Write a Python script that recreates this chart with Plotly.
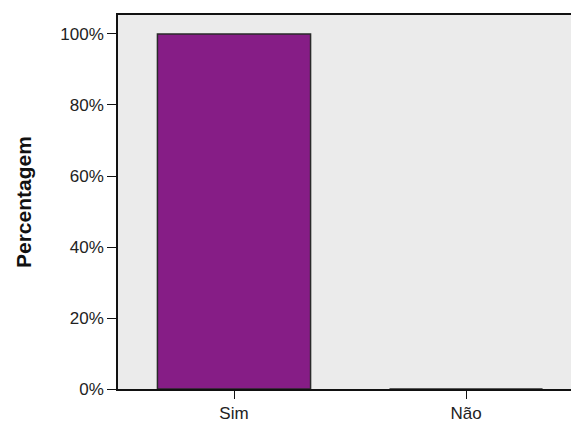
import plotly.graph_objects as go

categories = ["Sim", "Não"]
values = [100, 0]
tick_vals = [0, 20, 40, 60, 80, 100]
tick_text = ["0%", "20%", "40%", "60%", "80%", "100%"]
y_title = "Percentagem"

fig = go.Figure()
fig.add_trace(go.Bar(
    x=categories, y=values, width=0.66,
    marker=dict(color="#861D86", line=dict(color="#2a2a2a", width=1.5)),
))
fig.update_layout(
    width=571, height=419,
    margin=dict(l=110, r=0, t=7, b=38, autoexpand=False),
    paper_bgcolor="white", plot_bgcolor="#EBEBEB",
    font=dict(family="Liberation Sans, Arial", size=17, color="#222"),
    showlegend=False,
)
fig.update_xaxes(
    range=[-0.5, 1.487], showline=True, linecolor="#111", linewidth=1.5, mirror=True,
    ticks="outside", ticklen=8, tickcolor="#111", showgrid=False, automargin=False,
)
fig.update_yaxes(
    range=[0, 105.35], tickmode="array", tickvals=tick_vals, ticktext=tick_text,
    showline=True, linecolor="#111", linewidth=1.5, mirror=True,
    ticks="outside", ticklen=9, tickcolor="#111", showgrid=False, zeroline=False,
    automargin=False,
)
fig.add_annotation(
    text="<b>" + y_title + "</b>", textangle=-90, xref="paper", yref="paper",
    x=-0.206, y=0.5, xanchor="center", yanchor="middle", showarrow=False,
    font=dict(size=21, color="#111"),
)
fig.write_html("out.html")
